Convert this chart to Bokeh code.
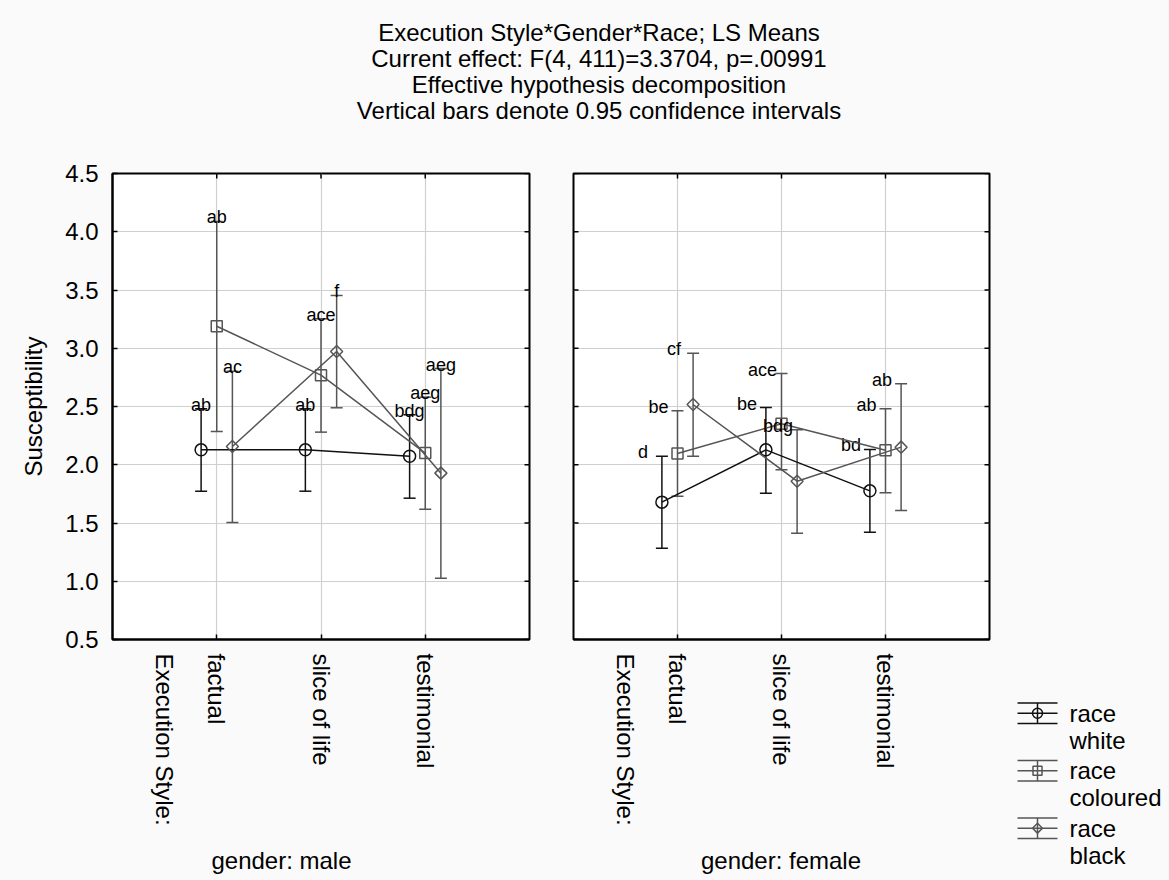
from math import pi
from bokeh.plotting import figure
from bokeh.models import (ColumnDataSource, Whisker, TeeHead, FixedTicker, Range1d, Div)
from bokeh.layouts import column, row
from bokeh.embed import file_html
from bokeh.resources import INLINE
from bokeh.core.properties import value

# ---------------- data ----------------
styles = ["factual", "slice of life", "testimonial"]
races = ["white", "coloured", "black"]
genders = ["male", "female"]
y_ticks = [0.5, 1.0, 1.5, 2.0, 2.5, 3.0, 3.5, 4.0, 4.5]
y_tick_labels = ["0.5", "1.0", "1.5", "2.0", "2.5", "3.0", "3.5", "4.0", "4.5"]

male_white_mean = [2.128, 2.128, 2.073]
male_white_up = [2.48, 2.48, 2.429]
male_white_lo = [1.773, 1.773, 1.713]
male_white_lab = ["ab", "ab", "bdg"]

male_coloured_mean = [3.189, 2.769, 2.10]
male_coloured_up = [4.088, 3.253, 2.58]
male_coloured_lo = [2.285, 2.28, 1.618]
male_coloured_lab = ["ab", "ace", "aeg"]

male_black_mean = [2.157, 2.972, 1.928]
male_black_up = [2.803, 3.453, 2.826]
male_black_lo = [1.504, 2.489, 1.026]
male_black_lab = ["ac", "f", "aeg"]

female_white_mean = [1.679, 2.128, 1.776]
female_white_up = [2.073, 2.491, 2.131]
female_white_lo = [1.284, 1.756, 1.421]
female_white_lab = ["d", "be", "bd"]

female_coloured_mean = [2.097, 2.352, 2.125]
female_coloured_up = [2.463, 2.783, 2.48]
female_coloured_lo = [1.73, 1.957, 1.759]
female_coloured_lab = ["be", "ace", "ab"]

female_black_mean = [2.517, 1.859, 2.151]
female_black_up = [2.958, 2.30, 2.695]
female_black_lo = [2.073, 1.412, 1.607]
female_black_lab = ["cf", "bdg", "ab"]

title_lines = [
    "Execution Style*Gender*Race; LS Means",
    "Current effect: F(4, 411)=3.3704, p=.00991",
    "Effective hypothesis decomposition",
    "Vertical bars denote 0.95 confidence intervals",
]
y_label = "Susceptibility"
factor_label = "Execution Style:"

data = {
    "male": [
        (male_white_mean, male_white_up, male_white_lo, male_white_lab),
        (male_coloured_mean, male_coloured_up, male_coloured_lo, male_coloured_lab),
        (male_black_mean, male_black_up, male_black_lo, male_black_lab),
    ],
    "female": [
        (female_white_mean, female_white_up, female_white_lo, female_white_lab),
        (female_coloured_mean, female_coloured_up, female_coloured_lo, female_coloured_lab),
        (female_black_mean, female_black_up, female_black_lo, female_black_lab),
    ],
}

# ---------------- style ----------------
FONT = "Liberation Sans"
FS = "24px"
BG = "#fafafa"
colors = ["#111111", "#555555", "#555555"]
markers = ["circle", "square", "square"]
msizes = [12, 11, 8.5]
mangles = [0, 0, pi / 4]
offsets = [-0.15, 0.0, 0.15]
cat_x = [1, 2, 3]
X0, X1 = 0, 4
TITLE_H = 153
TOP_B = 20
PANEL_H = 687


def panel(gender, first):
    p = figure(width=550 if first else 449, height=PANEL_H, title=None,
               x_range=Range1d(X0, X1), y_range=Range1d(y_ticks[0], y_ticks[-1]),
               output_backend="svg", toolbar_location=None,
               y_axis_location="left" if first else None,
               min_border_left=112 if first else 23,
               min_border_right=21 if first else 10,
               min_border_top=TOP_B, min_border_bottom=201,
               background_fill_color="white", border_fill_color=BG,
               outline_line_color="black", outline_line_width=2)

    # bottom axis: factor name + categories, inward minor ticks at the categories
    xa = p.xaxis[0]
    xa.ticker = FixedTicker(ticks=[0.5] + cat_x, minor_ticks=cat_x)
    xa.major_label_overrides = {0.5: factor_label, **{c: s for c, s in zip(cat_x, styles)}}
    xa.major_label_orientation = "vertical"
    xa.major_label_standoff = 14
    xa.major_label_text_font = FONT
    xa.major_label_text_font_size = FS
    xa.major_label_text_color = "black"
    xa.major_tick_line_color = None
    xa.major_tick_in = 0
    xa.major_tick_out = 0
    xa.minor_tick_in = 5
    xa.minor_tick_out = 0
    xa.minor_tick_line_width = 1.5
    xa.minor_tick_line_color = "black"
    xa.axis_line_width = 2
    xa.axis_line_color = "black"

    if first:
        ya = p.yaxis[0]
        ya.ticker = FixedTicker(ticks=y_ticks)
        ya.major_label_overrides = {t: s for t, s in zip(y_ticks, y_tick_labels)}
        ya.major_tick_in = 5
        ya.major_tick_out = 0
        ya.major_tick_line_width = 1.5
        ya.major_tick_line_color = "black"
        ya.minor_tick_line_color = None
        ya.axis_line_width = 2
        ya.axis_line_color = "black"
        ya.major_label_standoff = 14
        ya.major_label_text_font = FONT
        ya.major_label_text_font_size = FS
        ya.major_label_text_color = "black"
        ya.axis_label = y_label
        ya.axis_label_standoff = 15
        ya.axis_label_text_font = FONT
        ya.axis_label_text_font_size = FS
        ya.axis_label_text_font_style = "normal"
        ya.axis_label_text_color = "black"
    else:
        # inward ticks on the left edge (half of each dash is clipped by the frame)
        p.scatter(x=[X0] * len(y_ticks), y=y_ticks, marker="dash", size=10,
                  line_color="black", line_width=1.5)

    # inward ticks on top and right edges
    p.scatter(x=cat_x, y=[y_ticks[-1]] * len(cat_x), marker="dash", angle=pi / 2, size=10,
              line_color="black", line_width=1.5)
    p.scatter(x=[X1] * len(y_ticks), y=y_ticks, marker="dash", size=10,
              line_color="black", line_width=1.5)

    p.xgrid.ticker = FixedTicker(ticks=cat_x)
    p.ygrid.ticker = FixedTicker(ticks=y_ticks)
    p.grid.grid_line_color = "#cfcfcf"
    p.grid.grid_line_width = 1.2

    dx = 0 if first else -19
    for k, race in enumerate(races):
        mean, up, lo, lab = data[gender][k]
        xs = [c + offsets[k] for c in cat_x]
        src = ColumnDataSource(dict(x=xs, y=mean, up=up, lo=lo, lab=lab))
        p.line("x", "y", source=src, line_color=colors[k], line_width=1.5)
        w = Whisker(base="x", upper="up", lower="lo", source=src,
                    line_color=colors[k], line_width=1.5,
                    upper_head=TeeHead(size=12, line_color=colors[k], line_width=1.5),
                    lower_head=TeeHead(size=12, line_color=colors[k], line_width=1.5))
        p.add_layout(w)
        p.scatter("x", "y", source=src, marker=markers[k], size=msizes[k],
                  angle=mangles[k], fill_color=None, line_color=colors[k], line_width=1.5)
        p.text("x", "up", text="lab", source=src, text_align="center",
               text_baseline="alphabetic", x_offset=dx, y_offset=-4,
               text_font=value(FONT), text_font_size="18px", text_color="black")
    return p


p1 = panel("male", True)
p2 = panel("female", False)

# ---------------- legend ----------------
pl = figure(width=170, height=880 - TITLE_H, title=None,
            x_range=Range1d(999, 1169), y_range=Range1d(880, TITLE_H),
            output_backend="svg", toolbar_location=None,
            x_axis_location=None, y_axis_location=None,
            min_border_left=0, min_border_right=0, min_border_top=0, min_border_bottom=0,
            background_fill_color=BG, border_fill_color=BG, outline_line_color=None)
pl.frame_align = False
pl.grid.visible = False
leg_y0, leg_step = 712.7, 57.5
leg_x0, leg_x1, leg_xm = 1017, 1057, 1037
leg_msizes = [10, 9, 7]
for k, race in enumerate(races):
    yc = leg_y0 + k * leg_step
    pl.segment(x0=[leg_x0, leg_x0, leg_x0, leg_xm], y0=[yc - 10.3, yc, yc + 10.3, yc - 10.3],
               x1=[leg_x1, leg_x1, leg_x1, leg_xm], y1=[yc - 10.3, yc, yc + 10.3, yc + 10.3],
               line_color=colors[k], line_width=1.5)
    pl.scatter(x=[leg_xm], y=[yc], marker=markers[k], size=leg_msizes[k], angle=mangles[k],
               fill_color=None, line_color=colors[k], line_width=1.5)
    pl.text(x=[1069, 1069], y=[yc, yc + 27], text=["race", race], text_align="left",
            text_baseline="middle", text_font=value(FONT), text_font_size=FS, text_color="black")

# ---------------- texts in HTML ----------------
title_html = (
    f'<div style="margin-left:29px;width:1140px;text-align:center;font-family:\'{FONT}\';'
    f'font-size:24px;line-height:26px;padding-top:20px;color:black;">'
    + "<br>".join(title_lines) + "</div>"
)
div = Div(text=title_html, width=1169, height=TITLE_H, margin=(0, 0, 0, 0),
          styles={"background-color": BG})


def gender_div(g, w):
    html = (f'<div style="width:{w}px;text-align:center;font-family:\'{FONT}\';'
            f'font-size:24px;line-height:40px;padding-top:1px;color:black;">gender: {g}</div>')
    return Div(text=html, width=w, height=40, margin=(0, 0, 0, 0),
               styles={"background-color": BG})


left_block = column(row(p1, p2), row(gender_div("male", 563), gender_div("female", 436)))
layout = column(div, row(left_block, pl, styles={"background-color": BG}),
                styles={"background-color": BG})

open("out.html", "w").write(file_html(layout, INLINE))
